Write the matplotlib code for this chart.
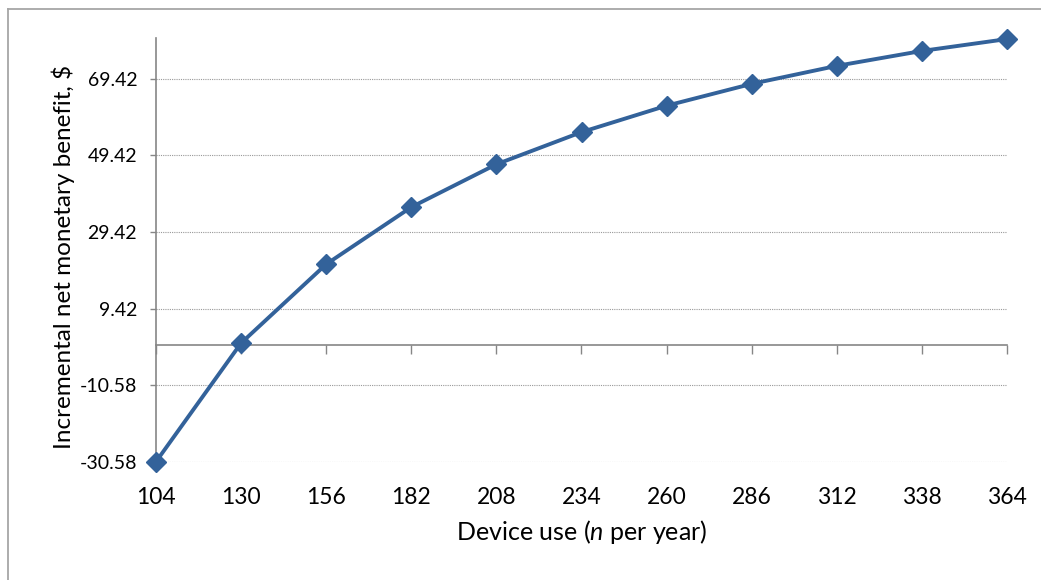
import matplotlib.pyplot as plt
from matplotlib.lines import Line2D

plt.rcParams['font.family'] = ['Lato', 'DejaVu Sans']
plt.rcParams['mathtext.fontset'] = 'custom'
plt.rcParams['mathtext.it'] = 'Lato:italic'
plt.rcParams['mathtext.rm'] = 'Lato'

# data
device_use = [104, 130, 156, 182, 208, 234, 260, 286, 312, 338, 364]
net_benefit = [-30.58, 0.4, 21.0, 35.9, 47.1, 55.5, 62.4, 68.1, 72.8, 76.7, 79.8]
y_ticks = [-30.58, -10.58, 9.42, 29.42, 49.42, 69.42]
y_min, y_max = -30.58, 80.0

line_col = '#33629a'
axis_col = '#868686'

fig = plt.figure(figsize=(10.41, 5.8), dpi=100)
W, H = 1041, 580
ax = fig.add_axes([156 / W, 1 - 461.7 / H, (1007 - 156) / W, (461.7 - 38.3) / H])

pos = list(range(len(device_use)))
ax.plot(pos, net_benefit, color=line_col, lw=2.8, marker='D', markersize=10.5,
        clip_on=False, zorder=5)

ax.set_xlim(0, len(device_use) - 1)
ax.set_ylim(y_min, y_max)

ax.set_yticks(y_ticks)
ax.set_yticklabels([f'{v:.2f}' for v in y_ticks])
ax.yaxis.grid(True, color='#999999', linestyle=(0, (1, 1)), lw=0.8)
ax.tick_params(axis='y', direction='out', length=4.5, width=1, color=axis_col,
               labelsize=14, pad=9)

ax.set_xticks(pos)
ax.set_xticklabels([str(v) for v in device_use])
ax.tick_params(axis='x', length=0, labelsize=16.5, pad=18)

for s in ['top', 'right', 'bottom']:
    ax.spines[s].set_visible(False)
ax.spines['left'].set_color(axis_col)
ax.spines['left'].set_linewidth(1.2)

# category axis crosses at zero
zero_frac = (0 - y_min) / (y_max - y_min)
sec = ax.secondary_xaxis(zero_frac)
sec.xaxis.set_ticks_position('bottom')
sec.set_xticks(pos)
sec.set_xticklabels([])
sec.tick_params(axis='x', direction='out', length=6.5, width=1, color=axis_col,
                labelbottom=False, labeltop=False, bottom=True, top=False)
sec.spines['bottom'].set_color(axis_col)
sec.spines['bottom'].set_linewidth(1.2)
sec.spines['top'].set_visible(False)

ax.set_xlabel(r'Device use ($\mathit{n}$ per year)', fontsize=18)
ax.set_ylabel('Incremental net monetary benefit, $', fontsize=17.5)
ax.xaxis.set_label_coords(0.5, -0.133)
ax.yaxis.set_label_coords(-0.095, 0.4835)

# chart area border (left and top visible)
fig.add_artist(Line2D([7.5 / W, 7.5 / W], [0, 1 - 9 / H], color='#a6a6a6', lw=1.3))
fig.add_artist(Line2D([7.5 / W, 1], [1 - 9 / H, 1 - 9 / H], color='#a6a6a6', lw=1.3))

fig.savefig('out.png', dpi=100)
